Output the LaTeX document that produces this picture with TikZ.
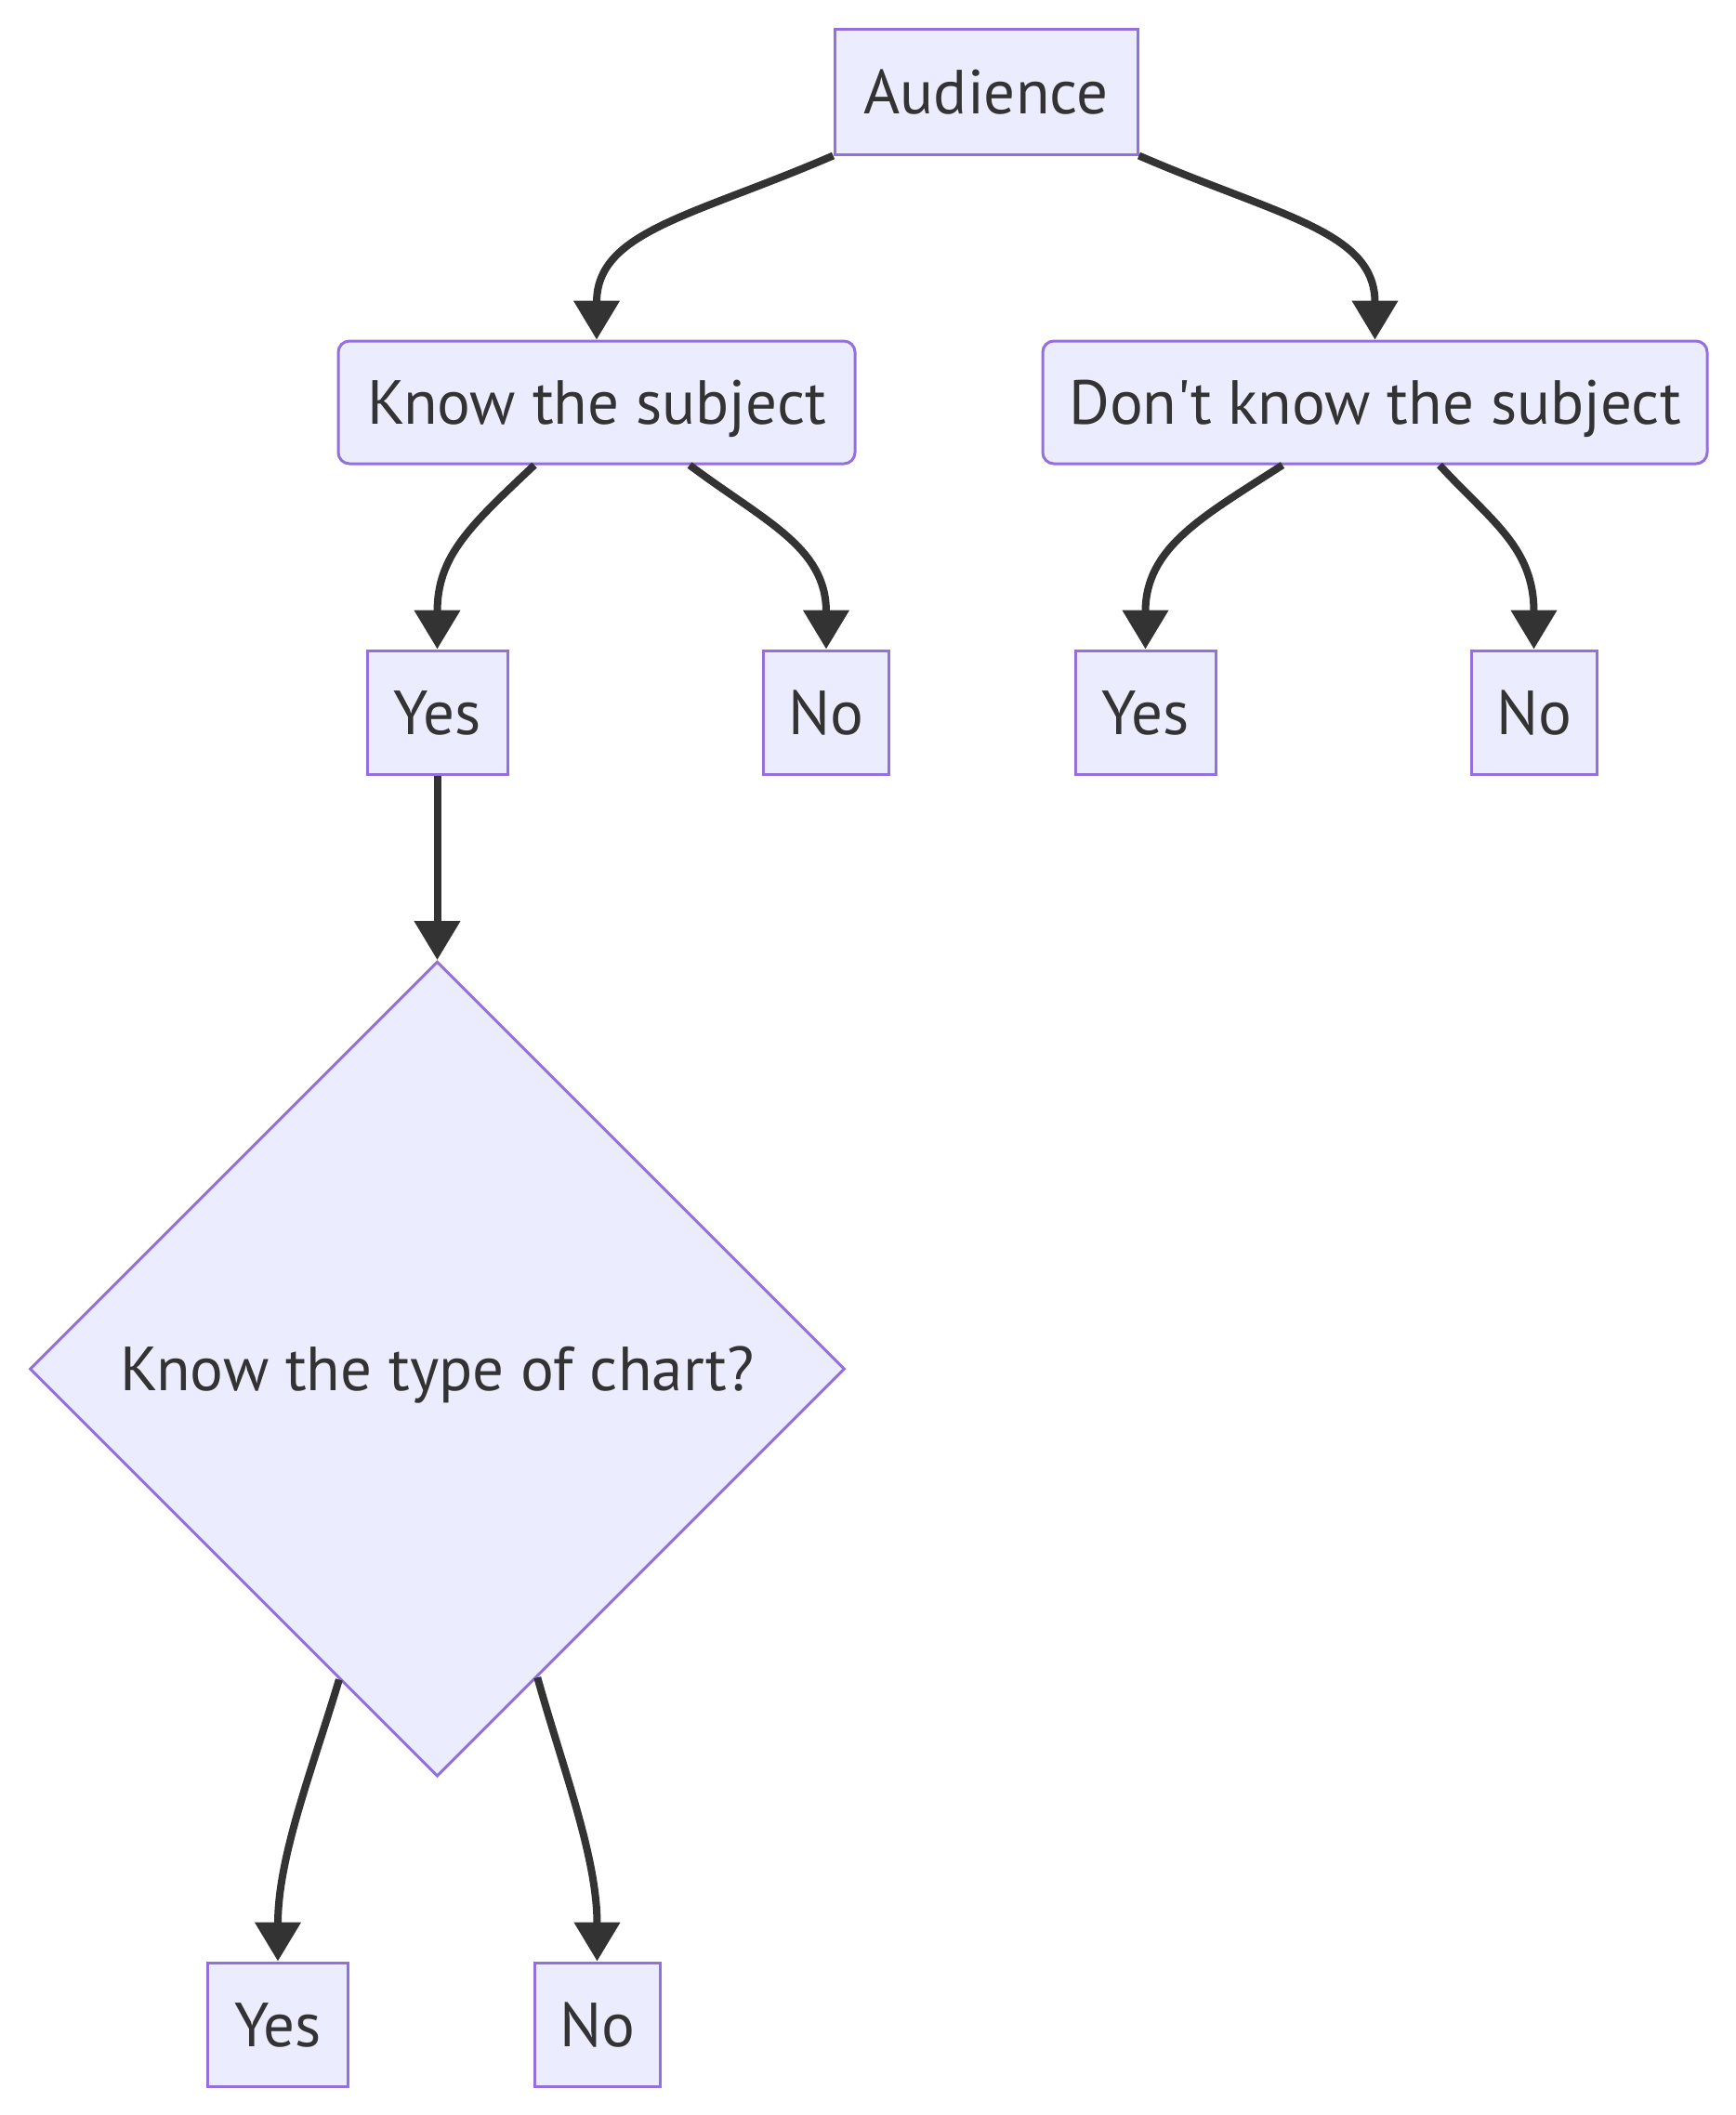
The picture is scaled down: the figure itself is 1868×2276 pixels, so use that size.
\documentclass[tikz,border=0pt]{standalone}
\usepackage{fontspec}
\newfontfamily\lblfont{PT Sans}
\usetikzlibrary{arrows.meta,shapes.geometric,calc}
\definecolor{nodefill}{HTML}{ECECFF}
\definecolor{nodeborder}{HTML}{9370DB}
\definecolor{edgecol}{HTML}{333333}
\definecolor{textcol}{HTML}{333333}
\begin{document}
\begin{tikzpicture}[x=1pt,y=-1pt,
  base/.style={draw=nodeborder, fill=nodefill, line width=3pt, text=textcol, inner sep=0pt,
    font=\lblfont\fontsize{67}{80}\selectfont, text height=47pt, text depth=0pt, minimum height=133pt},
  sqbox/.style={base, rectangle},
  rbox/.style={base, rectangle, rounded corners=12pt, minimum height=132pt},
  decision/.style={base, diamond, aspect=1, minimum width=877pt, minimum height=877pt},
  edge/.style={draw=edgecol, line width=8pt, -{Triangle[length=42pt,width=48pt]}}
]
\fill[white] (0,0) rectangle (1868,2276);
\useasboundingbox (0,0) rectangle (1868,2276);

\node[sqbox, minimum width=326pt, minimum height=135pt] (aud) at (1061,98.5) {Audience};
\node[rbox, minimum width=556pt] (ks) at (642,433) {Know the subject};
\node[rbox, minimum width=715pt] (dk) at (1479.5,433) {Don\textquotesingle t know the subject};
\node[sqbox, minimum width=151pt] (ylA) at (470.5,766.5) {Yes};
\node[sqbox, minimum width=135pt] (nlA) at (889,766.5) {No};
\node[sqbox, minimum width=151pt] (ylB) at (1232.5,766.5) {Yes};
\node[sqbox, minimum width=135pt] (nlB) at (1650.5,766.5) {No};
\node[decision] (dia) at (470.5,1473) {Know the type of chart?};
\node[sqbox, minimum width=151pt] (yb) at (299,2178.5) {Yes};
\node[sqbox, minimum width=135pt] (nb) at (642.5,2178.5) {No};

\draw[edge] (aud.south west) .. controls +(-150,65) and +(0,-117) .. (ks.north);
\draw[edge] (aud.south east) .. controls +(150,65) and +(0,-117) .. (dk.north);
\draw[edge] ($(ks.south)+(-67,0)$) .. controls +(-70,66) and +(0,-100) .. (ylA.north);
\draw[edge] ($(ks.south)+(100,0)$) .. controls +(80,60) and +(0,-110) .. (nlA.north);
\draw[edge] ($(dk.south)+(-99.5,0)$) .. controls +(-85,55) and +(0,-110) .. (ylB.north);
\draw[edge] ($(dk.south)+(69.5,0)$) .. controls +(55,60) and +(0,-110) .. (nlB.north);
\draw[edge] (ylA.south) -- (dia.north);
\draw[edge] ($(dia.west)!0.76!(dia.south)$) .. controls +(-30,100) and +(0,-112) .. (yb.north);
\draw[edge] ($(dia.east)!0.755!(dia.south)$) .. controls +(28,100) and +(0,-112) .. (nb.north);
\end{tikzpicture}
\end{document}
